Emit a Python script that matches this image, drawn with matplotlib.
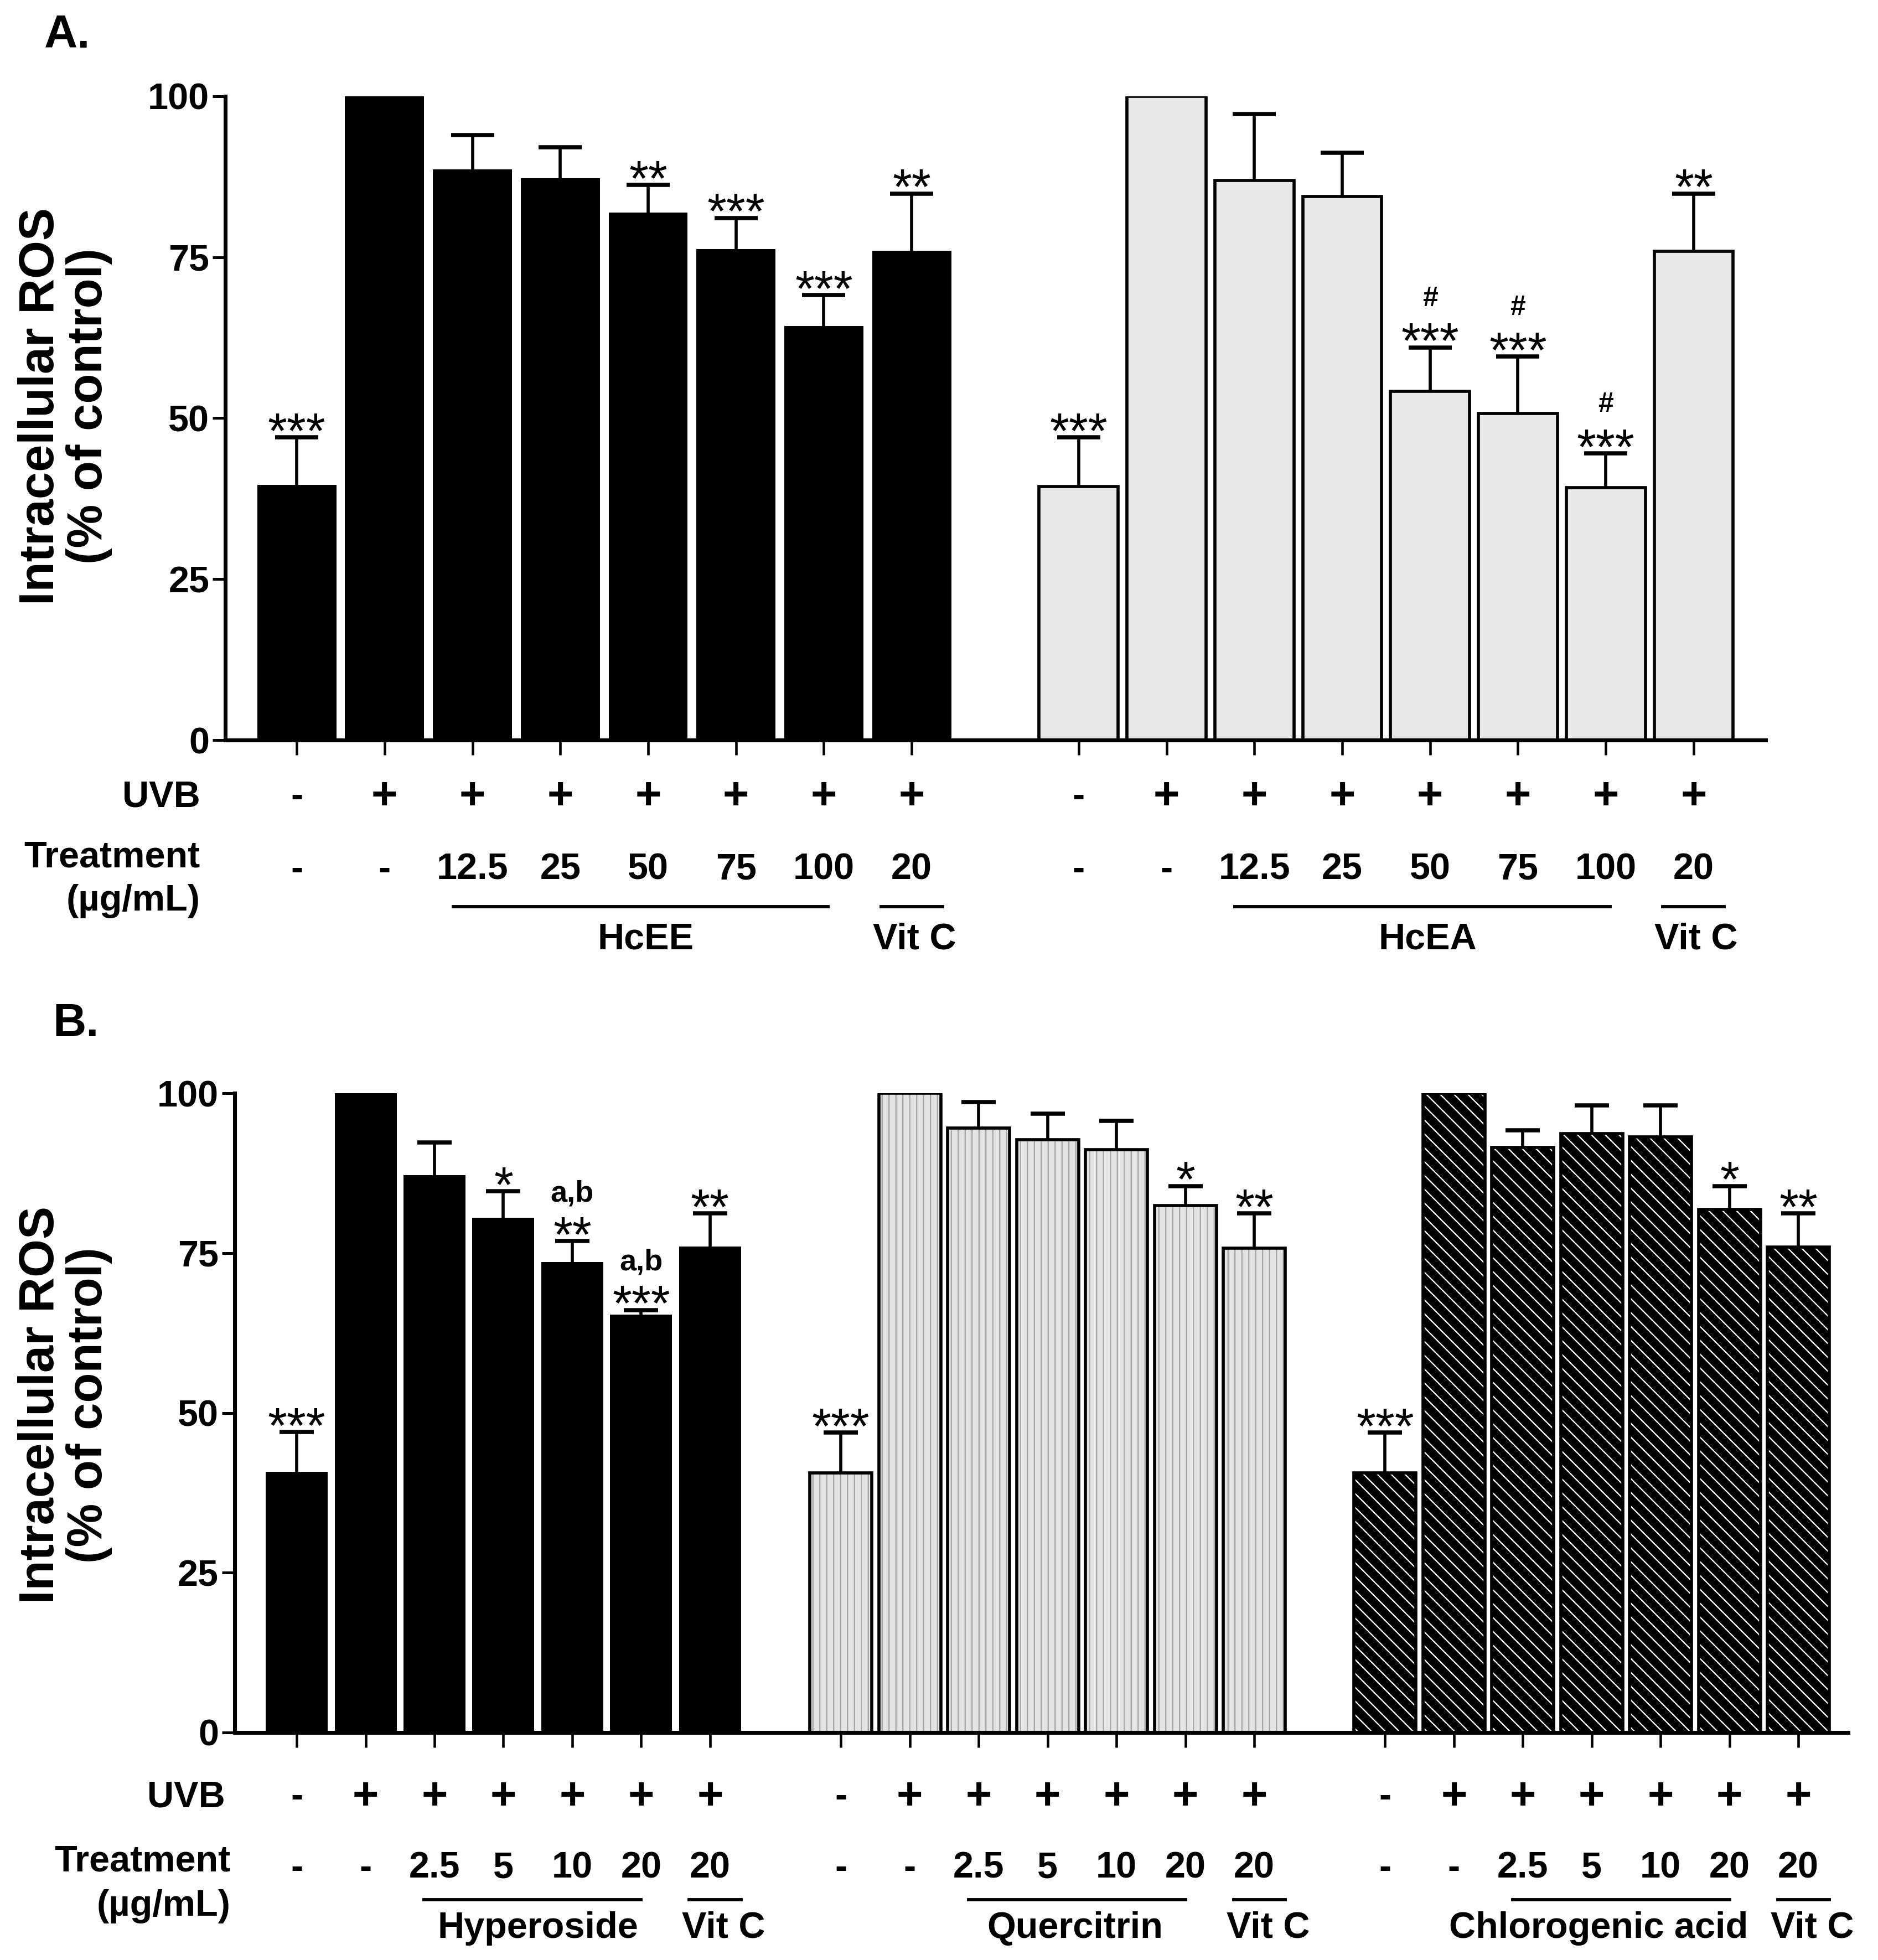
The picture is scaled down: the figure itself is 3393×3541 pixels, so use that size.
import numpy as np
import matplotlib
matplotlib.use('Agg')
import matplotlib.pyplot as plt
from matplotlib.transforms import blended_transform_factory

plt.rcParams['font.family'] = ['Liberation Sans', 'DejaVu Sans']
plt.rcParams['hatch.linewidth'] = 1.1

# ---- panel A data ----
hceeMean = [39.6, 100, 88.6, 87.3, 81.9, 76.3, 64.3, 76.0]
hceeErr = [7.4, 0, 5.4, 4.8, 4.3, 4.8, 4.8, 8.9]
hceeSig = ['***', '', '', '', '**', '***', '***', '**']
hceeExtra = ['', '', '', '', '', '', '', '']

hceaMean = [39.4, 100, 86.9, 84.4, 54.2, 50.7, 39.2, 75.9]
hceaErr = [7.6, 0, 10.3, 6.8, 6.8, 8.9, 5.3, 9.0]
hceaSig = ['***', '', '', '', '***', '***', '***', '**']
hceaExtra = ['', '', '', '', '#', '#', '#', '']

uvbA = ['-', '+', '+', '+', '+', '+', '+', '+']
treatA = ['-', '-', '12.5', '25', '50', '75', '100', '20']
groupNamesA = ['HcEE', 'HcEA']

# ---- panel B data ----
hypMean = [40.8, 100, 87.2, 80.5, 73.6, 65.4, 76.0]
hypErr = [6.2, 0, 5.1, 4.2, 3.3, 0.7, 5.2]
hypSig = ['***', '', '', '*', '**', '***', '**']
hypExtra = ['', '', '', '', 'a,b', 'a,b', '']

querMean = [40.6, 100, 94.6, 92.7, 91.2, 82.4, 75.8]
querErr = [6.3, 0, 4.0, 4.1, 4.5, 3.1, 5.4]
querSig = ['***', '', '', '', '', '*', '**']

chloMean = [40.6, 100, 91.5, 93.7, 93.2, 81.8, 75.9]
chloErr = [6.3, 0, 2.7, 4.4, 4.9, 3.7, 5.3]
chloSig = ['***', '', '', '', '', '*', '**']

noExtra = ['', '', '', '', '', '', '']
uvbB = ['-', '+', '+', '+', '+', '+', '+']
treatB = ['-', '-', '2.5', '5', '10', '20', '20']
groupNamesB = ['Hyperoside', 'Quercitrin', 'Chlorogenic acid']
groupLabelPosB = [3.5, 3.4, 3.1]

yTicks = [0, 25, 50, 75, 100]


def drawGroup(ax, xs, means, errs, style, sigs, extras, capsize):
    width = 0.9
    if style == 'black':
        ax.bar(xs, means, width, color='black', linewidth=0, zorder=2)
    elif style == 'light':
        ax.bar(xs, means, width, color='#e8e8e8', edgecolor='black', linewidth=2.7, zorder=2)
    elif style == 'vlines':
        ax.bar(xs, means, width, color='#e4e4e4', edgecolor='#a5a5a5', hatch='||', linewidth=0, zorder=2)
        ax.bar(xs, means, width, fill=False, edgecolor='black', linewidth=2.7, zorder=3)
    elif style == 'diag':
        ax.bar(xs, means, width, color='black', edgecolor='white', hatch='\\\\', linewidth=0, zorder=2)
        ax.bar(xs, means, width, fill=False, edgecolor='black', linewidth=2.7, zorder=3)

    exs = [x for x, e in zip(xs, errs) if e > 0]
    eys = [m for m, e in zip(means, errs) if e > 0]
    ees = [e for e in errs if e > 0]
    eb = ax.errorbar(exs, eys, yerr=[np.zeros(len(ees)), ees], fmt='none', ecolor='black',
                     elinewidth=2.7, capsize=capsize, capthick=3.6, zorder=4)
    # only the upper cap is drawn in the original
    for cap in eb[1]:
        if np.allclose(cap.get_ydata(), eys):
            cap.set_visible(False)

    for x, m, e, s, ex in zip(xs, means, errs, sigs, extras):
        top = m + e
        if s:
            ax.annotate(s, (x, top), xytext=(0, -9), textcoords='offset points',
                        ha='center', va='baseline', fontsize=43, annotation_clip=False)
        if ex == '#':
            ax.annotate(ex, (x, top), xytext=(0, 36), textcoords='offset points',
                        ha='center', va='baseline', fontsize=24, fontweight='bold',
                        annotation_clip=False)
        elif ex:
            ax.annotate(ex, (x, top), xytext=(0, 34.5), textcoords='offset points',
                        ha='center', va='baseline', fontsize=26, fontweight='bold',
                        annotation_clip=False)


def styleAxis(ax, xmin, xmax):
    ax.set_ylim(0, 100)
    ax.set_xlim(xmin, xmax)
    ax.spines['top'].set_visible(False)
    ax.spines['right'].set_visible(False)
    ax.spines['left'].set_linewidth(3.4)
    ax.spines['bottom'].set_linewidth(3.4)
    ax.set_yticks(yTicks)
    ax.set_yticklabels([str(t) for t in yTicks], fontsize=32, fontweight='bold')
    ax.tick_params(axis='y', length=11, width=2.4, pad=3)
    ax.tick_params(axis='x', length=13, width=2.2, labelbottom=False)


def drawRows(fig, ax, xs, uvb, treat, yUvb, yTreat):
    trans = blended_transform_factory(ax.transData, fig.transFigure)
    for x, u, t in zip(xs, uvb, treat):
        if u == '+':
            ax.text(x, yUvb, u, transform=trans, ha='center', va='center',
                    fontsize=39, fontweight='bold')
        else:
            ax.text(x, yUvb, u, transform=trans, ha='center', va='center',
                    fontsize=32, fontweight='bold')
        ax.text(x, yTreat, t, transform=trans, ha='center', va='center',
                fontsize=32, fontweight='bold')


def drawGroupLine(fig, ax, x0, x1, y, label, xLabel, yLabel):
    trans = blended_transform_factory(ax.transData, fig.transFigure)
    ax.plot([x0, x1], [y, y], color='black', linewidth=2.8, transform=trans, clip_on=False)
    ax.text(xLabel, yLabel, label, transform=trans, ha='center', va='center',
            fontsize=32, fontweight='bold')


fig = plt.figure(figsize=(3393 / 150, 3541 / 150), dpi=150)

# ---------------- panel A ----------------
axA = fig.add_axes([0.1201, 0.6224, 0.9402 - 0.1201, 0.9509 - 0.6224])
offA = 8.9
xA1 = np.arange(8)
xA2 = np.arange(8) + offA
drawGroup(axA, xA1, hceeMean, hceeErr, 'black', hceeSig, hceeExtra, 18.7)
drawGroup(axA, xA2, hceaMean, hceaErr, 'light', hceaSig, hceaExtra, 18.7)
styleAxis(axA, -0.81, 16.72)
axA.set_xticks(list(xA1) + list(xA2))

drawRows(fig, axA, list(xA1) + list(xA2), uvbA + uvbA, treatA + treatA, 0.5933, 0.5561)
for off, name in zip([0, offA], groupNamesA):
    drawGroupLine(fig, axA, off + 1.78, off + 6.05, 0.5374, name, off + 3.97, 0.5205)
    drawGroupLine(fig, axA, off + 6.65, off + 7.35, 0.5374, 'Vit C', off + 7.03, 0.5205)

fig.text(0.1066, 0.5933, 'UVB', ha='right', va='center', fontsize=32, fontweight='bold')
fig.text(0.1066, 0.5623, 'Treatment', ha='right', va='center', fontsize=32, fontweight='bold')
fig.text(0.1066, 0.5402, '(µg/mL)', ha='right', va='center', fontsize=32, fontweight='bold')
fig.text(0.0347, 0.7927, 'Intracellular ROS\n(% of control)', rotation=90, ha='center',
         va='center', fontsize=42.5, fontweight='bold', linespacing=1.05, multialignment='center')
fig.text(0.0236, 0.982, 'A.', ha='left', va='center', fontsize=40, fontweight='bold')

# ---------------- panel B ----------------
axB = fig.add_axes([0.125, 0.1161, 0.984 - 0.125, 0.4422 - 0.1161])
offsB = [0, 7.9, 15.8]
xB = [np.arange(7) + o for o in offsB]
drawGroup(axB, xB[0], hypMean, hypErr, 'black', hypSig, hypExtra, 15)
drawGroup(axB, xB[1], querMean, querErr, 'vlines', querSig, noExtra, 15)
drawGroup(axB, xB[2], chloMean, chloErr, 'diag', chloSig, noExtra, 15)
styleAxis(axB, -0.9, 22.52)
axB.set_xticks(np.concatenate(xB))

drawRows(fig, axB, np.concatenate(xB), uvbB * 3, treatB * 3, 0.0830, 0.0466)
for off, name, lp in zip(offsB, groupNamesB, groupLabelPosB):
    drawGroupLine(fig, axB, off + 1.85, off + 5.0, 0.0308, name, off + lp, 0.0161)
    drawGroupLine(fig, axB, off + 5.7, off + 6.45, 0.0308, 'Vit C', off + 6.2, 0.0161)

fig.text(0.12, 0.0830, 'UVB', ha='right', va='center', fontsize=32, fontweight='bold')
fig.text(0.1227, 0.0500, 'Treatment', ha='right', va='center', fontsize=32, fontweight='bold')
fig.text(0.1227, 0.0274, '(µg/mL)', ha='right', va='center', fontsize=32, fontweight='bold')
fig.text(0.0347, 0.2832, 'Intracellular ROS\n(% of control)', rotation=90, ha='center',
         va='center', fontsize=42.5, fontweight='bold', linespacing=1.05, multialignment='center')
fig.text(0.028, 0.4775, 'B.', ha='left', va='center', fontsize=40, fontweight='bold')

fig.savefig('out.png', dpi=150)
